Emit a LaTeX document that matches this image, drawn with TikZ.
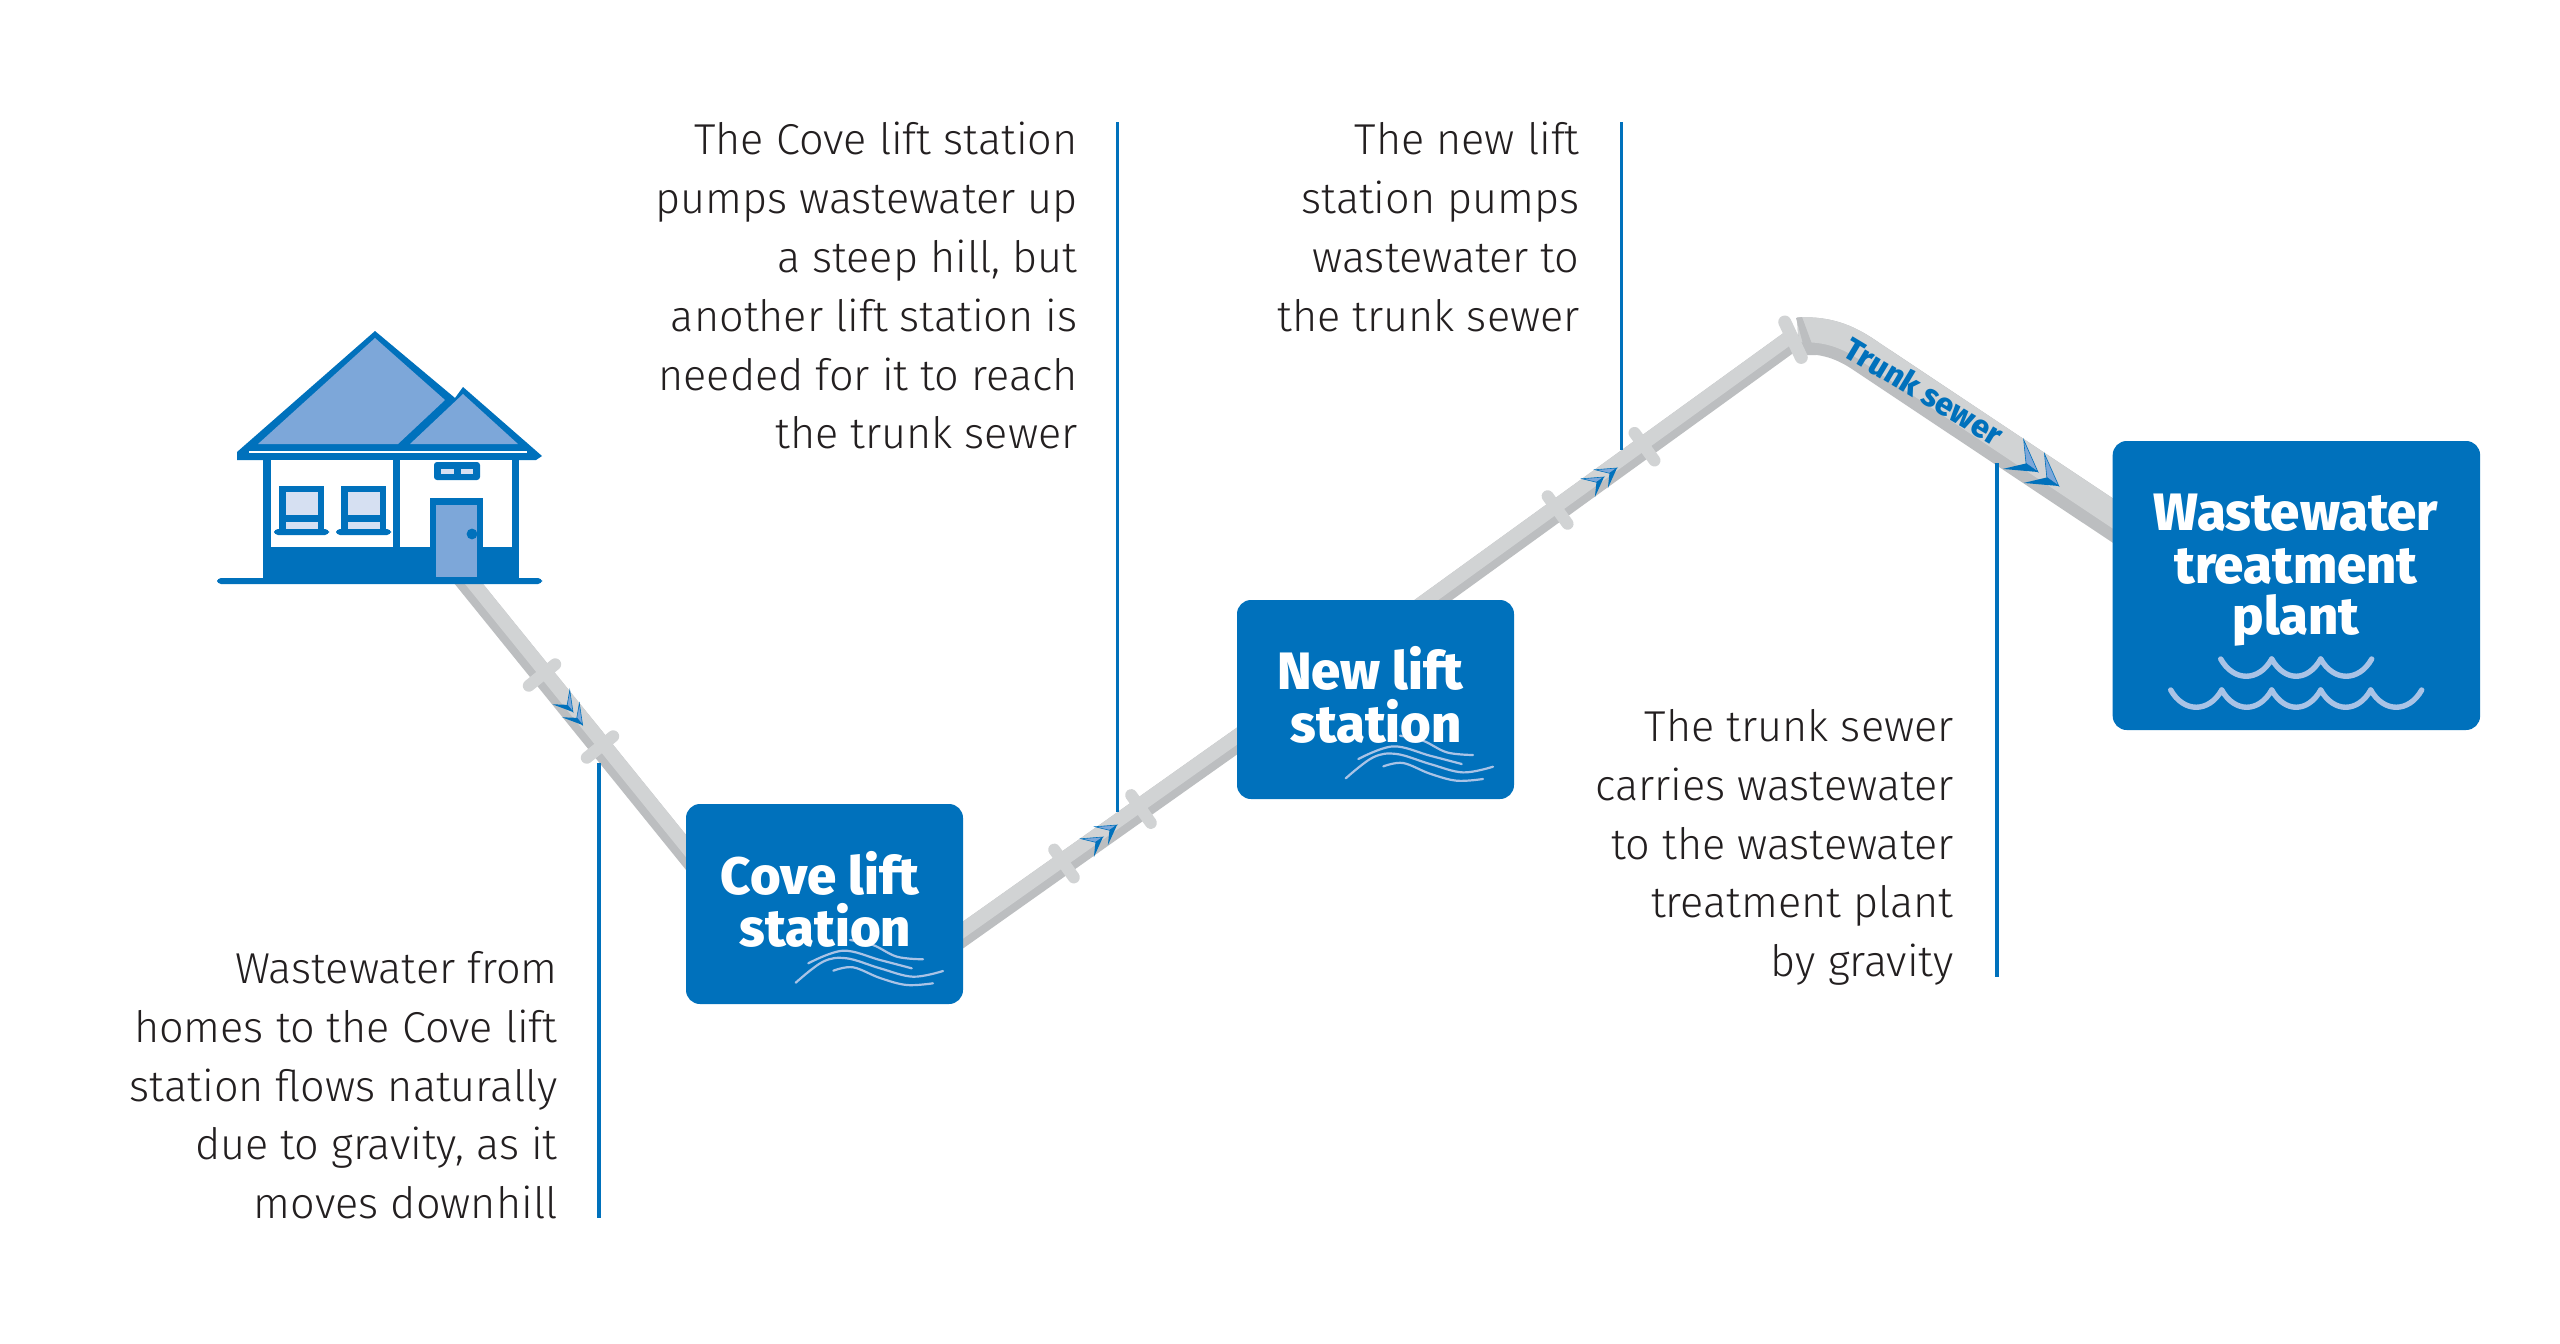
\documentclass[tikz,border=0pt]{standalone}
\usepackage{fontspec}
\setmainfont{Fira Sans}[UprightFont={* Light},BoldFont={* ExtraBold}]
\usetikzlibrary{calc}
\pgfdeclarelayer{pipes}
\pgfsetlayers{pipes,main}
\definecolor{wwblue}{HTML}{0071BC}
\definecolor{roofblue}{HTML}{7DA7D9}
\definecolor{paneblue}{HTML}{D6E0F2}
\definecolor{wavelt}{HTML}{A9C3E6}
\definecolor{pipelt}{HTML}{D1D3D4}
\definecolor{pipedk}{HTML}{BCBEC0}
\definecolor{inktext}{HTML}{231F20}
\tikzset{
  x=0.5pt,y=-0.5pt,
  boxst/.style={fill=wwblue,rounded corners=7pt,inner sep=0pt,text=white,align=center},
  boxtext/.style={text=white,font=\fontsize{26.3}{26}\selectfont\bfseries,align=center,inner sep=0pt},
  bodytext/.style={text=inktext,font=\fontsize{21.6}{29.4}\selectfont,align=right,inner sep=0pt,anchor=north east},
  leaderln/.style={draw=wwblue,line width=1.7pt},
  flangest/.style={fill=pipelt,rounded corners=3pt,minimum width=23pt,minimum height=6pt,inner sep=0pt},
  wave/.style={draw=wavelt,line width=1.1pt,line cap=round},
  scallop/.style={draw=wavelt,line width=2.7pt,line cap=round,line join=round},
  hblue/.style={fill=wwblue,draw=none},
  hroof/.style={fill=roofblue,draw=none},
  hpane/.style={fill=paneblue,draw=none},
}
% straight pipe between two named coordinates
\newcommand{\pipeseg}[2]{%
  \draw[pipedk,line width=11pt] (#1) -- (#2);
  \draw[pipelt,line width=7pt] ($(#1)!2pt!90:(#2)$) -- ($(#2)!2pt!-90:(#1)$);
}
% chevron: tip at (x,y), rotation, scale
\newcommand{\chev}[4]{%
  \begin{scope}[shift={(#1,#2)},rotate=#3,x=#4pt,y=#4pt]
    \fill[roofblue,draw=wwblue,line width=.3pt,line join=miter] (0,0) -- (-9.5,5.6) -- (-4.6,0) -- cycle;
    \fill[wwblue] (0,0) -- (-9.5,-5.6) -- (-4.6,0) -- cycle;
  \end{scope}}
% the four wavy lines of a lift station
\newcommand{\waves}[2]{%
  \begin{scope}[shift={(#1,#2)}]
  \draw[wave] plot[smooth,tension=.6] coordinates {(850,940) (873,945) (897,956.7) (923,959.3)};
  \draw[wave] plot[smooth,tension=.6] coordinates {(808.3,963.3) (843,950.7) (880,960) (911.7,968.3)};
  \draw[wave] plot[smooth,tension=.6] coordinates {(795.7,982.7) (823,961.7) (846.7,958.3) (880,968.3) (913,976.7) (943,971)};
  \draw[wave] plot[smooth,tension=.6] coordinates {(833.3,970.7) (853,967.3) (880,978) (906.7,985) (933,983.3)};
  \end{scope}}
% one scallop of the treatment plant water
\newcommand{\scal}[3]{%
  \draw[scallop] (#1,#3) .. controls (#1+13,#3+23) and (#2-13,#3+23) .. (#2,#3);}
\begin{document}
\begin{tikzpicture}
\useasboundingbox (0,0) rectangle (2560,1344);

% ---- station boxes
\node[boxst,minimum width=138.5pt,minimum height=100pt] (cove) at (824.5,904) {};
\node[boxst,minimum width=138.5pt,minimum height=99.5pt] (newls) at (1375.5,699.5) {};
\node[boxst,minimum width=183.7pt,minimum height=144.5pt] (plant) at (2296.4,585.5) {};

\waves{0}{0}
\waves{550}{-204.3}

\node[boxtext,anchor=base] (covea) at (820,894) {Cove lift};
\node[boxtext,anchor=base] (coveb) at (825.5,946) {station};
\node[boxtext,anchor=base] (newa) at (1370,689) {New lift};
\node[boxtext,anchor=base] (newb) at (1376,742) {station};
\node[boxtext,anchor=base] (planta) at (2296,530) {Wastewater};
\node[boxtext,anchor=base] (plantb) at (2296,583) {treatment};
\node[boxtext,anchor=base] (plantc) at (2296,634) {plant};

% ---- pipe path coordinates
\coordinate (houseout) at (460,573);
\coordinate (covein) at (700,869.7);
\coordinate (coveout) at (950,944.2);
\coordinate (newin) at (1250,731.8);
\coordinate (newout) at (1400,624);
\coordinate (bendin) at (1793,339.7);
\begin{pgfonlayer}{pipes}
  \fill[white] (0,0) rectangle (2560,1344);
  \pipeseg{houseout}{covein}
  \pipeseg{coveout}{newin}
  \pipeseg{newout}{bendin}
  % trunk sewer
  \draw[pipedk,line width=18.5pt] (1798,336) .. controls (1830,334) and (1850,345) .. (1868,357.5) -- (2130,532);
  \draw[pipelt,line width=12.5pt] (1798,330) .. controls (1832,328) and (1853,340) .. (1871,352.5) -- (2133,527);
\end{pgfonlayer}

% ---- flanges
\node[flangest,rotate=39.1] (fa) at (542,675) {};
\node[flangest,rotate=39.1] (fb) at (600,747) {};
\node[flangest,rotate=-54.7] (fc) at (1064,863.5) {};
\node[flangest,rotate=-54.7] (fd) at (1141,809) {};
\node[flangest,rotate=-54.1] (fe) at (1557.6,510) {};
\node[flangest,rotate=-54.1] (ff) at (1644.5,446.7) {};
\fill[pipedk] (1796,318) -- (1802,317) -- (1816,355) -- (1806,355) -- cycle;
\node[flangest,rotate=-65,minimum width=26pt,minimum height=6.5pt,rounded corners=3.2pt] (fg) at (1793,339.7) {};

% ---- chevrons
\chev{573}{712}{-51}{1}
\chev{582.6}{725}{-51}{1}
\chev{1103}{837}{35}{1}
\chev{1117}{825}{35}{1}
\chev{1604}{477}{35}{1}
\chev{1617}{468}{35}{1}
\chev{2038}{472}{-35.5}{1.6}
\chev{2058.8}{486}{-35.5}{1.6}

\node[rotate=-31,anchor=base,text=wwblue,inner sep=0pt,font=\fontsize{15.8}{17}\selectfont\bfseries] (trunk) at (1918,401) {Trunk sewer};

% ---- leaders
\coordinate (la) at (599,763); \coordinate (lb) at (599,1218);
\coordinate (lc) at (1117.5,122); \coordinate (ld) at (1117.5,812);
\coordinate (le) at (1621.5,122); \coordinate (lf) at (1621.5,450);
\coordinate (lg) at (1997,463); \coordinate (lh) at (1997,977);
\draw[leaderln] (la) -- (lb);
\draw[leaderln] (lc) -- (ld);
\draw[leaderln] (le) -- (lf);
\draw[leaderln] (lg) -- (lh);

% ---- body text
\node[bodytext] (ta) at (558,951) {Wastewater from\\homes to the Cove lift\\station flows naturally\\due to gravity, as it\\moves downhill};
\node[bodytext] (tb) at (1078,122) {The Cove lift station\\pumps wastewater up\\a steep hill, but\\another lift station is\\needed for it to reach\\the trunk sewer};
\node[bodytext] (tc) at (1580,122) {The new lift\\station pumps\\wastewater to\\the trunk sewer};
\node[bodytext] (td) at (1954,709) {The trunk sewer\\carries wastewater\\to the wastewater\\treatment plant\\by gravity};

% ---- water in the plant
\scal{2220.7}{2271.7}{659}\scal{2271.7}{2320.7}{659}\scal{2320.7}{2371.7}{659}
\scal{2170.7}{2221.7}{690}\scal{2221.7}{2271.7}{690}\scal{2271.7}{2320.7}{690}\scal{2320.7}{2370.7}{690}\scal{2370.7}{2421.7}{690}

% ---- house
\fill[hblue] (375,331) -- (455,398) -- (463,387) -- (542,456) -- (536,460) -- (237,460) -- (237,452) -- cycle;
\fill[hroof] (375,338) -- (445,400) -- (398,444) -- (258,444) -- cycle;
\fill[hroof] (463,394) -- (518,444) -- (410,444) -- cycle;
\fill[white] (249,450.5) rectangle (527,452.5);
\fill[hblue] (263,459) rectangle (519,578);
\fill[white] (271,460) rectangle (393,547);
\fill[white] (400,460) rectangle (512,547);
\fill[hblue,rounded corners=2pt] (217,578) rectangle (542,584);
\fill[hblue] (279,486) rectangle (324,532);
\fill[hblue] (341,486) rectangle (386,532);
\fill[hblue,rounded corners=2pt] (274,529) rectangle (329,535);
\fill[hblue,rounded corners=2pt] (336,529) rectangle (391,535);
\fill[hpane] (286,492) rectangle (318,515);
\fill[hpane] (286,522) rectangle (318,529);
\fill[hpane] (348,492) rectangle (380,515);
\fill[hpane] (348,522) rectangle (380,529);
\fill[hblue,rounded corners=1.5pt] (434,462) rectangle (480,480);
\fill[hpane] (441,469) rectangle (454,474);
\fill[hpane] (461,469) rectangle (473,474);
\fill[hblue] (430,498) rectangle (483,578);
\fill[hroof] (436,505) rectangle (477,577);
\fill[hblue] (472,534) circle (2.7pt);
\end{tikzpicture}
\end{document}
